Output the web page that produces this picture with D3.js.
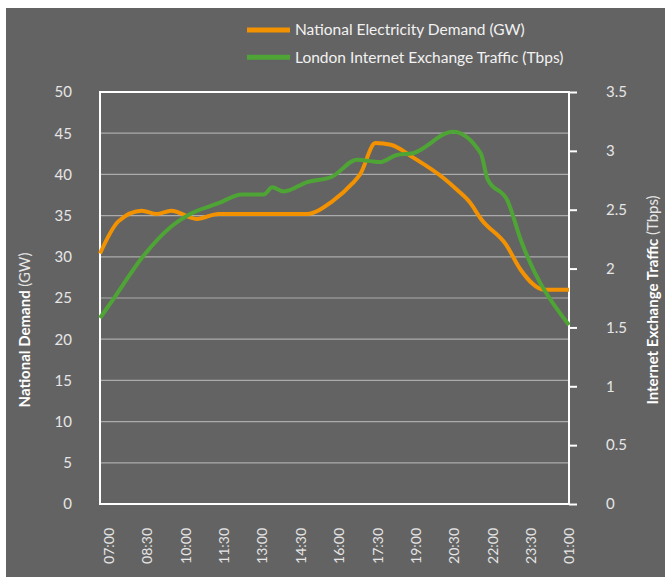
<!DOCTYPE html>
<html>
<head>
<meta charset="utf-8">
<script src="https://cdn.jsdelivr.net/npm/d3@7"></script>
<style>
  html, body { margin: 0; padding: 0; background: #ffffff; }
  svg { display: block; font-family: Lato, "Open Sans", sans-serif; }
</style>
</head>
<body>
<svg id="chart" width="665" height="577"></svg>
<script>
// ---- data ----
const demandTimes = ["06:40","07:23","08:18","08:53","09:27","10:27","11:18","14:46","15:44","16:32","16:50","17:26","18:02","18:56","20:07","20:38","21:06","21:35","22:32","23:07","00:02","01:00"];
const demandValues = [30.4, 34.3, 35.6, 35.2, 35.6, 34.6, 35.2, 35.2, 36.7, 38.9, 40.0, 43.8, 43.6, 42.0, 39.5, 38.1, 36.7, 34.5, 31.5, 28.4, 26.0, 26.0];

const trafficTimes = ["06:40","07:15","08:18","09:28","10:15","11:18","12:13","13:04","13:24","13:51","14:46","15:44","16:43","17:36","18:16","18:54","20:28","21:33","21:49","22:36","23:07","01:00"];
const trafficValues = [1.58, 1.76, 2.09, 2.36, 2.47, 2.555, 2.63, 2.63, 2.69, 2.655, 2.735, 2.78, 2.925, 2.905, 2.965, 2.98, 3.163, 2.98, 2.76, 2.575, 2.243, 1.52];

const xTickLabels = ["07:00","08:30","10:00","11:30","13:00","14:30","16:00","17:30","19:00","20:30","22:00","23:30","01:00"];
const leftTicks = [0, 5, 10, 15, 20, 25, 30, 35, 40, 45, 50];
const rightTicks = [0, 0.5, 1, 1.5, 2, 2.5, 3, 3.5];
const seriesNames = ["National Electricity Demand (GW)", "London Internet Exchange Traffic (Tbps)"];
const seriesColors = ["#f39200", "#4ea535"];

// ---- helpers ----
function toMin(s) {
  const [h, m] = s.split(":").map(Number);
  let v = h * 60 + m;
  if (v < 6 * 60) v += 1440; // after midnight
  return v;
}

const svg = d3.select("#chart");
const W = 665, H = 577;
const L = 100, R = 569, T = 92, B = 504;

svg.append("rect").attr("x", 6).attr("y", 8).attr("width", W - 6).attr("height", H - 8).attr("fill", "#636363");

const x = d3.scaleLinear().domain([toMin("06:40"), toMin("01:00")]).range([L, R]);
const yL = d3.scaleLinear().domain([0, 50]).range([B, T]);
const yR = d3.scaleLinear().domain([0, 3.5]).range([B, T]);

// gridlines
svg.append("g").selectAll("line").data(leftTicks.filter(d => d > 0 && d < 50)).join("line")
  .attr("x1", L).attr("x2", R).attr("y1", d => yL(d)).attr("y2", d => yL(d))
  .attr("stroke", "#ababab").attr("stroke-width", 1.2);

// left tick labels
const gl = svg.append("g").attr("transform", `translate(${L},0)`)
  .call(d3.axisLeft(yL).tickValues(leftTicks).tickSize(0).tickPadding(28));
gl.select(".domain").remove();
gl.selectAll("text").attr("fill", "#e6e6e6").attr("font-size", 15).attr("font-family", "Lato, sans-serif");

// right axis
const gr = svg.append("g").attr("transform", `translate(${R},0)`)
  .call(d3.axisRight(yR).tickValues(rightTicks).tickSize(8).tickPadding(29).tickFormat(d => d));
gr.select(".domain").remove();
gr.selectAll("line").attr("stroke", "#ffffff").attr("stroke-width", 2);
gr.selectAll("text").attr("fill", "#e6e6e6").attr("font-size", 15).attr("font-family", "Lato, sans-serif");

// x axis labels
const gx = svg.append("g").attr("transform", `translate(0,${B})`)
  .call(d3.axisBottom(x).tickValues(xTickLabels.map(toMin)).tickSize(0).tickFormat((d, i) => xTickLabels[i]));
gx.select(".domain").remove();
gx.selectAll("text")
  .attr("fill", "#e6e6e6").attr("font-size", 14).attr("font-family", "Lato, sans-serif")
  .attr("transform", "rotate(-90)")
  .attr("text-anchor", "end")
  .attr("x", -24).attr("y", 0).attr("dy", "0.35em");

// plot border
svg.append("rect").attr("x", L).attr("y", T).attr("width", R - L).attr("height", B - T)
  .attr("fill", "none").attr("stroke", "#ffffff").attr("stroke-width", 2);

// lines
const demandData = demandTimes.map((t, i) => ({ t: toMin(t), v: demandValues[i] }));
const trafficData = trafficTimes.map((t, i) => ({ t: toMin(t), v: trafficValues[i] }));

svg.append("path").datum(demandData)
  .attr("d", d3.line().x(d => x(d.t)).y(d => yL(d.v)).curve(d3.curveMonotoneX))
  .attr("fill", "none").attr("stroke", seriesColors[0]).attr("stroke-width", 4)
  .attr("stroke-linejoin", "round");
svg.append("path").datum(trafficData)
  .attr("d", d3.line().x(d => x(d.t)).y(d => yR(d.v)).curve(d3.curveMonotoneX))
  .attr("fill", "none").attr("stroke", seriesColors[1]).attr("stroke-width", 4)
  .attr("stroke-linejoin", "round");

// axis titles
const lt = svg.append("text").attr("transform", "translate(30,330) rotate(-90)")
  .attr("text-anchor", "middle").attr("fill", "#ffffff").attr("font-size", 15);
lt.append("tspan").attr("font-weight", "bold").text("National Demand ");
lt.append("tspan").attr("fill", "#e6e6e6").text("(GW)");

const rt = svg.append("text").attr("transform", "translate(658,300) rotate(-90)")
  .attr("text-anchor", "middle").attr("fill", "#ffffff").attr("font-size", 15);
rt.append("tspan").attr("font-weight", "bold").text("Internet Exchange Traffic ");
rt.append("tspan").attr("fill", "#e6e6e6").text("(Tbps)");

// legend
const lg = svg.append("g");
seriesNames.forEach((name, i) => {
  const yy = 30 + i * 27.3;
  lg.append("line").attr("x1", 247).attr("x2", 290).attr("y1", yy).attr("y2", yy)
    .attr("stroke", seriesColors[i]).attr("stroke-width", 5);
  lg.append("text").attr("x", 295).attr("y", yy).attr("dy", "0.35em")
    .attr("fill", "#f2f2f2").attr("font-size", 15.5).text(name);
});
</script>
</body>
</html>
